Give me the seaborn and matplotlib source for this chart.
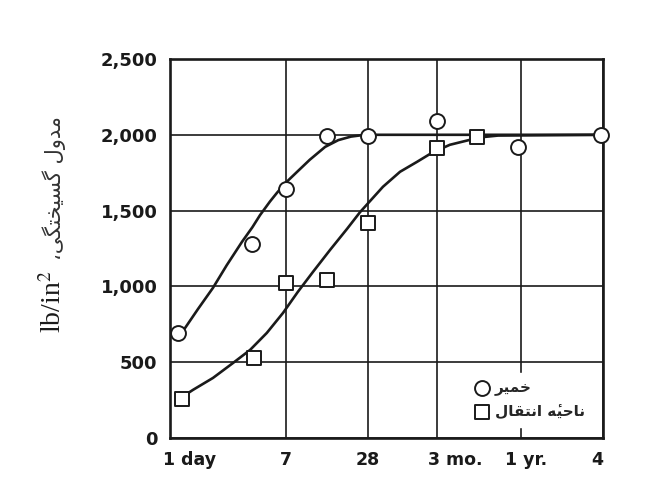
import matplotlib
matplotlib.use("Agg")
import matplotlib.pyplot as plt
import matplotlib.transforms as mtransforms
import pandas as pd
import seaborn as sns

# ---------- DATA (days after casting, lb/in^2) ----------
paste_days = [1.15, 4.0, 7, 14, 28, 90, 350, 1420]
paste_psi = [690, 1280, 1640, 1990, 1990, 2090, 1920, 2000]

zone_days = [1.22, 4.1, 7, 14, 28, 90, 175]
zone_psi = [260, 530, 1020, 1045, 1420, 1910, 1985]

# hand-drawn fitted curves
paste_curve_days = [1.16, 1.29, 1.6, 2.06, 2.6, 3.36, 4.0, 4.55, 5.38, 6.06, 7.0, 8.5, 10.5,
                    13.6, 17, 21, 25, 28, 1460]
paste_curve_psi = [690, 726, 850, 990, 1140, 1294, 1390, 1470, 1560, 1618, 1683, 1756, 1835,
                   1920, 1965, 1988, 1997, 2000, 2000]

zone_curve_days = [1.35, 1.47, 2.06, 2.89, 3.85, 5.1, 6.7, 8.6, 11.1, 14.8, 19.7, 24.5, 36,
                   48, 64, 82, 111, 156, 194, 250, 1460]
zone_curve_psi = [295, 317, 396, 495, 581, 693, 825, 964, 1096, 1241, 1380, 1490, 1657,
                  1756, 1822, 1881, 1934, 1967, 1985, 1995, 2000]

x_ticks = [1, 7, 28, 90, 365, 1460]
x_tick_labels = ["1 day", "7", "28", "3 mo.", "1 yr.", "4"]
y_ticks = [0, 500, 1000, 1500, 2000, 2500]
y_tick_labels = ["0", "500", "1,000", "1,500", "2,000", "2,500"]

series_names = ["خمیر", "ناحیهٔ انتقال"]
y_label_fa = "مدول گسیختگی،"
y_label_unit = r"lb/in$^\mathrm{2}$"

# ---------- tiny persian shaper (matplotlib has no arabic shaping) ----------
FORMS = {
    "ا": ("\uFE8D", "\uFE8E", None, None),
    "د": ("\uFEA9", "\uFEAA", None, None),
    "ر": ("\uFEAD", "\uFEAE", None, None),
    "و": ("\uFEED", "\uFEEE", None, None),
    "ت": ("\uFE95", "\uFE96", "\uFE97", "\uFE98"),
    "ح": ("\uFEA1", "\uFEA2", "\uFEA3", "\uFEA4"),
    "خ": ("\uFEA5", "\uFEA6", "\uFEA7", "\uFEA8"),
    "س": ("\uFEB1", "\uFEB2", "\uFEB3", "\uFEB4"),
    "ق": ("\uFED5", "\uFED6", "\uFED7", "\uFED8"),
    "ل": ("\uFEDD", "\uFEDE", "\uFEDF", "\uFEE0"),
    "م": ("\uFEE1", "\uFEE2", "\uFEE3", "\uFEE4"),
    "ن": ("\uFEE5", "\uFEE6", "\uFEE7", "\uFEE8"),
    "ه": ("\uFEE9", "\uFEEA", "\uFEEB", "\uFEEC"),
    "گ": ("\uFB92", "\uFB93", "\uFB94", "\uFB95"),
    "ی": ("\uFBFC", "\uFBFD", "\uFBFE", "\uFBFF"),
}
MARKS = {"\u0654"}


def shape_fa(text):
    # group base letters with their combining marks
    clusters = []
    for ch in text:
        if ch in MARKS and clusters:
            clusters[-1][1].append(ch)
        else:
            clusters.append([ch, []])
    bases = [c[0] for c in clusters]
    out = []
    for i, (ch, marks) in enumerate(clusters):
        glyph = ch
        if ch in FORMS:
            prev = bases[i - 1] if i > 0 else ""
            nxt = bases[i + 1] if i + 1 < len(bases) else ""
            iso, fin, ini, med = FORMS[ch]
            join_prev = prev in FORMS and FORMS[prev][2] is not None
            join_next = ini is not None and nxt in FORMS
            if join_prev and join_next:
                glyph = med
            elif join_prev:
                glyph = fin
            elif join_next:
                glyph = ini
            else:
                glyph = iso
        out.append(glyph + "".join(marks))
    return "".join(reversed(out))


# ---------- STYLE ----------
sns.set_style("white")
plt.rcParams["font.family"] = ["DejaVu Sans"]

fig = plt.figure(figsize=(6.52, 4.97), dpi=100)
ax = fig.add_axes([0.2607, 0.1187, 0.6641, 0.7626])

ink = "#1a1a1a"

curves = pd.concat([
    pd.DataFrame({"days": paste_curve_days, "psi": paste_curve_psi, "series": "paste"}),
    pd.DataFrame({"days": zone_curve_days, "psi": zone_curve_psi, "series": "zone"}),
])
sns.lineplot(data=curves, x="days", y="psi", units="series", estimator=None,
             sort=False, color=ink, linewidth=1.9, ax=ax, zorder=3)

sns.scatterplot(x=paste_days, y=paste_psi, marker="o", s=115, facecolor="white",
                edgecolor=ink, linewidth=1.4, ax=ax, zorder=4, clip_on=False,
                label=shape_fa(series_names[0]))
sns.scatterplot(x=zone_days, y=zone_psi, marker="s", s=110, facecolor="white",
                edgecolor=ink, linewidth=1.4, ax=ax, zorder=4, clip_on=False,
                label=shape_fa(series_names[1]))

# ---------- AXES ----------
ax.set_xscale("log")
ax.set_xlim(1, 1460)
ax.set_ylim(0, 2500)
ax.set_xticks(x_ticks)
ax.set_xticklabels(x_tick_labels)
ax.minorticks_off()
ax.set_yticks(y_ticks)
ax.set_yticklabels(y_tick_labels)
ax.set_xlabel("")

ax.grid(True, color=ink, linewidth=1.2)
ax.set_axisbelow(True)
for sp in ax.spines.values():
    sp.set_visible(True)
    sp.set_color(ink)
    sp.set_linewidth(1.9)

ax.tick_params(axis="y", length=3, width=1.2, color=ink, pad=6, labelsize=13)
ax.tick_params(axis="x", length=0, pad=9, labelsize=12.5)
for lab in ax.get_xticklabels() + ax.get_yticklabels():
    lab.set_fontweight("bold")
    lab.set_color(ink)

# per-label nudges like the printed figure
x_label_align = ["left", "center", "center", "left", "left", "right"]
x_label_shift = [-5, 0, 0, -7, -11, 0]
for lab, ha, dx in zip(ax.get_xticklabels(), x_label_align, x_label_shift):
    lab.set_ha(ha)
    lab.set_transform(lab.get_transform() + mtransforms.ScaledTranslation(dx / 72, 0, fig.dpi_scale_trans))

# y label: serif unit below, persian words above, sharing one baseline
ax.set_ylabel(y_label_unit, fontsize=20, math_fontfamily="stix",
              fontfamily=["Liberation Serif"], color=ink,
              rotation=90, rotation_mode="anchor", ha="center", va="baseline")
ax.yaxis.set_label_coords(-0.252, 0.36)
ax.text(-0.252, 0.66, shape_fa(y_label_fa), transform=ax.transAxes, rotation=90,
        rotation_mode="anchor", ha="center", va="baseline", fontsize=15,
        fontfamily=["DejaVu Sans"], color="#333333")

leg = ax.legend(loc="lower right", bbox_to_anchor=(0.975, 0.03), frameon=True,
                facecolor="white", edgecolor="white", framealpha=1,
                fontsize=11, handletextpad=0.3, borderpad=0.5, labelspacing=0.5,
                handlelength=1.0, borderaxespad=0)
for t in leg.get_texts():
    t.set_fontweight("bold")

fig.savefig("out.png", dpi=100)
